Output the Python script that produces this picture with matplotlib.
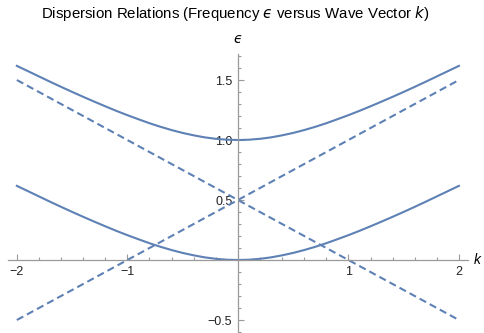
import numpy as np
import matplotlib
matplotlib.use("Agg")
import matplotlib.pyplot as plt
from matplotlib.ticker import MultipleLocator, FuncFormatter

plt.rcParams["font.family"] = ["Liberation Sans", "DejaVu Sans"]

# wave vector samples and the two dispersion branches
k = [-2.0, -1.9, -1.8, -1.7, -1.6, -1.5, -1.4, -1.3, -1.2, -1.1, -1.0,
     -0.9, -0.8, -0.7, -0.6, -0.5, -0.4, -0.3, -0.2, -0.1, 0.0,
     0.1, 0.2, 0.3, 0.4, 0.5, 0.6, 0.7, 0.8, 0.9, 1.0,
     1.1, 1.2, 1.3, 1.4, 1.5, 1.6, 1.7, 1.8, 1.9, 2.0]
eps_lower = [0.618, 0.574, 0.530, 0.486, 0.443, 0.401, 0.360, 0.320, 0.281, 0.243, 0.207,
             0.173, 0.140, 0.110, 0.083, 0.059, 0.039, 0.022, 0.010, 0.0025, 0.0,
             0.0025, 0.010, 0.022, 0.039, 0.059, 0.083, 0.110, 0.140, 0.173, 0.207,
             0.243, 0.281, 0.320, 0.360, 0.401, 0.443, 0.486, 0.530, 0.574, 0.618]
eps_upper = [1.618, 1.574, 1.530, 1.486, 1.443, 1.401, 1.360, 1.320, 1.281, 1.243, 1.207,
             1.173, 1.140, 1.110, 1.083, 1.059, 1.039, 1.022, 1.010, 1.0025, 1.0,
             1.0025, 1.010, 1.022, 1.039, 1.059, 1.083, 1.110, 1.140, 1.173, 1.207,
             1.243, 1.281, 1.320, 1.360, 1.401, 1.443, 1.486, 1.530, 1.574, 1.618]

# uncoupled modes (straight lines)
k_line = [-2.0, 2.0]
eps_rise = [-0.5, 1.5]
eps_fall = [1.5, -0.5]

col = "#5E81B5"
axcol = "#9a9a9a"
EPS = "\u03f5"

fig = plt.figure(figsize=(4.85, 3.33), dpi=100)
ax = fig.add_axes([0.0165, 0.003, 0.948, 0.836])

ax.plot(k, eps_upper, color=col, lw=1.5)
ax.plot(k, eps_lower, color=col, lw=1.5)
ax.plot(k_line, eps_rise, color=col, lw=1.5, dashes=(3.5, 2))
ax.plot(k_line, eps_fall, color=col, lw=1.5, dashes=(3.5, 2))

ax.set_xlim(-2.08, 2.08)
ax.set_ylim(-0.6, 1.72)

# axes cross at the origin
for s in ["top", "right"]:
    ax.spines[s].set_visible(False)
ax.spines["left"].set_position(("data", 0))
ax.spines["bottom"].set_position(("data", 0))
for s in ["left", "bottom"]:
    ax.spines[s].set_color(axcol)
    ax.spines[s].set_linewidth(0.9)

ax.xaxis.set_major_locator(MultipleLocator(1))
ax.xaxis.set_minor_locator(MultipleLocator(0.2))
ax.yaxis.set_major_locator(MultipleLocator(0.5))
ax.yaxis.set_minor_locator(MultipleLocator(0.1))

ax.xaxis.set_major_formatter(FuncFormatter(lambda v, p: "" if abs(v) < 1e-9 else f"{v:.0f}".replace("-", "\u2212")))
ax.yaxis.set_major_formatter(FuncFormatter(lambda v, p: "" if abs(v) < 1e-9 else f"{v:.1f}".replace("-", "\u2212")))

ax.tick_params(which="both", direction="in", color=axcol, width=0.8, labelsize=9, labelcolor="#222222")
ax.tick_params(which="major", length=4, pad=4)
ax.tick_params(which="minor", length=2.5)

ax.text(2.13, 0, "k", fontsize=10, style="italic", va="center", ha="left", clip_on=False)
ax.text(0, 1.84, EPS, fontsize=10, style="italic", va="center", ha="center", clip_on=False,
        family=["DejaVu Sans"])

fig.text(0.485, 0.958, "Dispersion Relations (Frequency $\\it{\u03f5}$ versus Wave Vector $\\it{k}$)",
         ha="center", va="center", fontsize=10.8)

fig.savefig("out.png", dpi=100)
